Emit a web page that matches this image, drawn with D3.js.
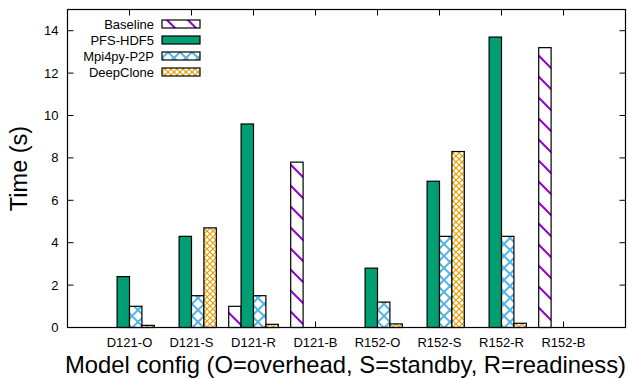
<!DOCTYPE html>
<html>
<head>
<meta charset="utf-8">
<script src="https://cdn.jsdelivr.net/npm/d3@7"></script>
<style>
  body { margin: 0; background: #fff; }
  text { font-family: "Liberation Sans", Arial, sans-serif; fill: #000; }
</style>
</head>
<body>
<svg id="chart" width="628" height="379"></svg>
<script>
// configs along the x axis
var configs = ["D121-O", "D121-S", "D121-R", "D121-B", "R152-O", "R152-S", "R152-R", "R152-B"];
var seriesNames = ["Baseline", "PFS-HDF5", "Mpi4py-P2P", "DeepClone"];

// times in seconds, one entry per config
var baseline = [0, 0, 1.0, 7.8, 0, 0, 0, 13.2];
var pfsHdf5 = [2.4, 4.3, 9.6, 0, 2.8, 6.9, 13.7, 0];
var mpi4py = [1.0, 1.5, 1.5, 0, 1.2, 4.3, 4.3, 0];
var deepClone = [0.1, 4.7, 0.15, 0, 0.17, 8.3, 0.2, 0];

var yTicks = [0, 2, 4, 6, 8, 10, 12, 14];

var series = [baseline, pfsHdf5, mpi4py, deepClone];
var fills = ["url(#pBase)", "#009e73", "url(#pMpi)", "url(#pDeep)"];

var svg = d3.select("#chart");
var mLeft = 67.5, mRight = 625.5, mTop = 9.5, mBottom = 327.5;

var x = d3.scaleLinear().domain([0, configs.length + 1]).range([mLeft, mRight]);
var y = d3.scaleLinear().domain([0, 15]).range([mBottom, mTop]);
var barW = x(0.2) - x(0);

// fill patterns (gnuplot-like)
var defs = svg.append("defs");
var pb = defs.append("pattern").attr("id", "pBase").attr("patternUnits", "userSpaceOnUse")
    .attr("width", 21).attr("height", 21);
pb.append("rect").attr("width", 21).attr("height", 21).attr("fill", "#fff");
pb.append("path").attr("d", "M-2,-2L23,23M-2,19L2,23M19,-2L23,2")
    .attr("stroke", "#9400d3").attr("stroke-width", 2);

var pm = defs.append("pattern").attr("id", "pMpi").attr("patternUnits", "userSpaceOnUse")
    .attr("patternTransform", "translate(0,4)")
    .attr("width", 12).attr("height", 12);
pm.append("rect").attr("width", 12).attr("height", 12).attr("fill", "#fff");
pm.append("path").attr("d", "M0,0L12,12M12,0L0,12")
    .attr("stroke", "#56b4e9").attr("stroke-width", 2);

var pd = defs.append("pattern").attr("id", "pDeep").attr("patternUnits", "userSpaceOnUse")
    .attr("width", 6).attr("height", 6);
pd.append("rect").attr("width", 6).attr("height", 6).attr("fill", "#fff");
pd.append("path").attr("d", "M0,0L6,6M6,0L0,6")
    .attr("stroke", "#e69f00").attr("stroke-width", 1.2);

// ticks (inside, mirrored)
var g = svg.append("g");
yTicks.forEach(function(t) {
    g.append("line").attr("x1", mLeft).attr("x2", mLeft + 6).attr("y1", y(t)).attr("y2", y(t)).attr("stroke", "#000");
    g.append("line").attr("x1", mRight - 6).attr("x2", mRight).attr("y1", y(t)).attr("y2", y(t)).attr("stroke", "#000");
    g.append("text").attr("x", mLeft - 9).attr("y", y(t) + 4.5)
        .attr("text-anchor", "end").style("font-size", "13px").text(t);
});
configs.forEach(function(c, i) {
    var cx = x(i + 1);
    g.append("line").attr("x1", cx).attr("x2", cx).attr("y1", mBottom).attr("y2", mBottom - 6).attr("stroke", "#000");
    g.append("line").attr("x1", cx).attr("x2", cx).attr("y1", mTop).attr("y2", mTop + 6).attr("stroke", "#000");
    g.append("text").attr("x", cx).attr("y", mBottom + 19)
        .attr("text-anchor", "middle").style("font-size", "13px").text(c);
});

// bars
series.forEach(function(vals, s) {
    var data = vals.map(function(v, i) { return {v: v, i: i}; }).filter(function(d) { return d.v > 0; });
    svg.append("g").attr("class", "bars").selectAll("rect")
        .data(data)
        .enter()
        .append("rect")
        .attr("x", function(d) { return x(d.i + 1 - 0.4 + s * 0.2); })
        .attr("y", function(d) { return y(d.v); })
        .attr("width", barW)
        .attr("height", function(d) { return y(0) - y(d.v); })
        .attr("fill", fills[s])
        .attr("stroke", "#000")
        .attr("stroke-width", 1.2);
});

// frame
svg.append("rect").attr("x", mLeft).attr("y", mTop).attr("width", mRight - mLeft).attr("height", mBottom - mTop)
    .attr("fill", "none").attr("stroke", "#000").attr("stroke-width", 1.2);

// legend
var leg = svg.append("g");
seriesNames.forEach(function(n, s) {
    var cy = 24 + s * 16;
    leg.append("text").attr("x", 154).attr("y", cy + 4.5).attr("text-anchor", "end")
        .style("font-size", "13px").text(n);
    leg.append("rect").attr("x", 162).attr("y", cy - 4).attr("width", 38).attr("height", 8)
        .attr("fill", fills[s]).attr("stroke", "#000").attr("stroke-width", 1.2);
});

// axis titles
svg.append("text").attr("x", (mLeft + mRight) / 2 - 1).attr("y", 373).attr("text-anchor", "middle")
    .style("font-size", "23.8px").text("Model config (O=overhead, S=standby, R=readiness)");
svg.append("text").attr("transform", "translate(27," + ((mTop + mBottom) / 2) + ") rotate(-90)")
    .attr("text-anchor", "middle").style("font-size", "23.5px").text("Time (s)");
</script>
</body>
</html>
